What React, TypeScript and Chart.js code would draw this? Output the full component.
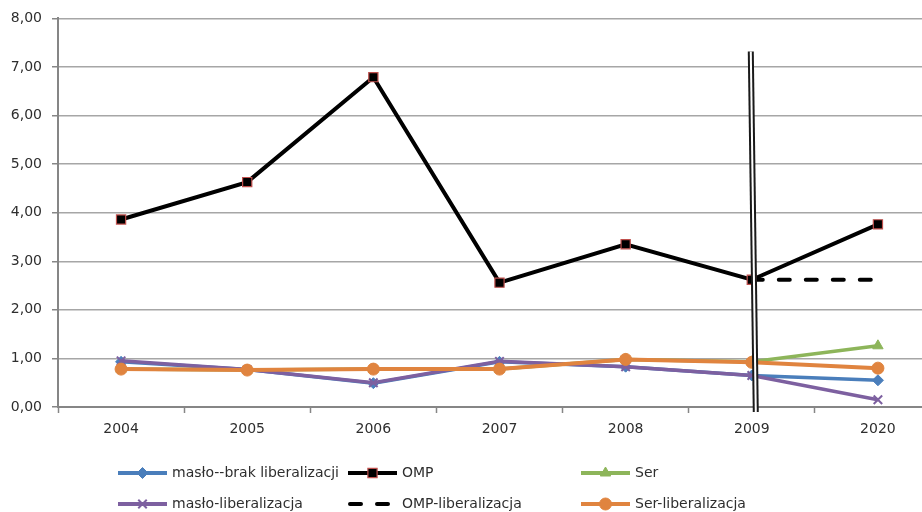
import React, { useEffect, useRef } from "react";
import { Chart, registerables } from "chart.js";
import { drawPoint } from "chart.js/helpers";

Chart.register(...registerables);

const categories = ["2004", "2005", "2006", "2007", "2008", "2009", "2020"];
const masloBrak = [0.93, 0.77, 0.49, 0.93, 0.83, 0.65, 0.55];
const omp = [3.86, 4.63, 6.79, 2.56, 3.35, 2.62, 3.76];
const ser = [0.78, 0.76, 0.78, 0.78, 0.98, 0.93, 1.26];
const masloLib = [0.95, 0.77, 0.5, 0.94, 0.83, 0.65, 0.15];
const ompLib = [null, null, null, null, null, 2.62, 2.62];
const serLib = [0.78, 0.76, 0.78, 0.78, 0.98, 0.92, 0.8];

const yMin = 0;
const yMax = 8;
const yStep = 1;
const dividerIndex = 5;
const dividerTop = 7.32;

const FONT = '"DejaVu Sans", Verdana, sans-serif';
const TEXT = "#2e2e2e";

const BLUE = "#4A7EBB";
const PURPLE = "#7D60A0";
const GREEN = "#8DB55A";
const ORANGE = "#E0843F";
const BLACK = "#000000";
const RED_BORDER = "#C0504D";

type LegendItem = {
  label: string;
  color: string;
  pointStyle: string | false;
  radius: number;
  border?: string;
  dash?: number[];
};

const legendItems: LegendItem[][] = [
  [
    { label: "masło--brak liberalizacji", color: BLUE, pointStyle: "rectRot", radius: 5.5 },
    { label: "OMP", color: BLACK, pointStyle: "rect", radius: 6.5, border: RED_BORDER },
    { label: "Ser", color: GREEN, pointStyle: "triangle", radius: 6 },
  ],
  [
    { label: "masło-liberalizacja", color: PURPLE, pointStyle: "crossRot", radius: 6 },
    { label: "OMP-liberalizacja", color: BLACK, pointStyle: false, radius: 0, dash: [11, 16] },
    { label: "Ser-liberalizacja", color: ORANGE, pointStyle: "circle", radius: 6 },
  ],
];

const legendPlugin = {
  id: "customLegend",
  afterDraw(chart: any) {
    const ctx = chart.ctx;
    const colX = [118, 348, 581];
    const rowY = [473, 504];
    const lineLen = 49;
    ctx.save();
    legendItems.forEach((row, r) => {
      row.forEach((item, c) => {
        const x0 = colX[c];
        const y = rowY[r];
        ctx.beginPath();
        ctx.strokeStyle = item.color;
        ctx.lineWidth = 4;
        if (item.dash) {
          ctx.setLineDash(item.dash);
          ctx.lineCap = "round";
          ctx.moveTo(x0 + 2, y);
          ctx.lineTo(x0 + lineLen - 2, y);
        } else {
          ctx.setLineDash([]);
          ctx.lineCap = "butt";
          ctx.moveTo(x0, y);
          ctx.lineTo(x0 + lineLen, y);
        }
        ctx.stroke();
        ctx.setLineDash([]);
        if (item.pointStyle) {
          ctx.fillStyle = item.color;
          ctx.strokeStyle = item.border || item.color;
          ctx.lineWidth = item.border ? 1.2 : item.pointStyle === "crossRot" ? 2 : 1;
          drawPoint(ctx, { pointStyle: item.pointStyle, radius: item.radius, rotation: 0, borderWidth: ctx.lineWidth } as any, x0 + lineLen / 2, y);
        }
        ctx.fillStyle = TEXT;
        ctx.font = `14px ${FONT}`;
        ctx.textBaseline = "middle";
        ctx.textAlign = "left";
        ctx.fillText(item.label, x0 + lineLen + 5, y);
      });
    });
    ctx.restore();
  },
};

const dividerPlugin = {
  id: "divider",
  afterDatasetsDraw(chart: any) {
    const ctx = chart.ctx;
    const xs = chart.scales.x;
    const ys = chart.scales.y;
    const x = xs.getPixelForValue(dividerIndex);
    const yTop = ys.getPixelForValue(dividerTop);
    const yBot = chart.chartArea.bottom + 5;
    ctx.save();
    ctx.lineCap = "butt";
    ctx.beginPath();
    ctx.strokeStyle = "#1a1a1a";
    ctx.lineWidth = 6;
    ctx.moveTo(x - 1, yTop);
    ctx.lineTo(x + 4, yBot);
    ctx.stroke();
    ctx.beginPath();
    ctx.strokeStyle = "#ffffff";
    ctx.lineWidth = 2;
    ctx.moveTo(x - 1, yTop);
    ctx.lineTo(x + 4, yBot);
    ctx.stroke();
    ctx.restore();
  },
};

export default function App() {
  const ref = useRef<HTMLCanvasElement | null>(null);

  useEffect(() => {
    if (!ref.current) return;
    const mk = (
      label: string,
      data: (number | null)[],
      color: string,
      pointStyle: any,
      radius: number,
      order: number,
      extra: any = {}
    ) => ({
      label,
      data,
      borderColor: color,
      backgroundColor: color,
      pointBackgroundColor: color,
      pointBorderColor: color,
      pointStyle,
      pointRadius: radius,
      pointHoverRadius: radius,
      borderWidth: 3.5,
      pointBorderWidth: 1,
      tension: 0,
      order,
      ...extra,
    });

    const chart = new Chart(ref.current, {
      type: "line",
      data: {
        labels: categories,
        datasets: [
          mk("masło--brak liberalizacji", masloBrak, BLUE, "rectRot", 5.5, 10),
          mk("OMP", omp, BLACK, "rect", 6.5, 5, {
            pointBorderColor: RED_BORDER,
            pointBorderWidth: 1.2,
            borderWidth: 4,
          }),
          mk("Ser", ser, GREEN, "triangle", 6, 9),
          mk("masło-liberalizacja", masloLib, PURPLE, "crossRot", 6, 8, { pointBorderWidth: 2 }),
          mk("OMP-liberalizacja", ompLib, BLACK, "circle", 0, 6, {
            borderDash: [11, 16],
            borderCapStyle: "round",
            borderWidth: 4,
          }),
          mk("Ser-liberalizacja", serLib, ORANGE, "circle", 6, 7, { borderWidth: 4 }),
        ],
      },
      options: {
        responsive: false,
        animation: false,
        devicePixelRatio: 1,
        layout: { padding: { top: 13, right: 19, left: 0, bottom: 0 } },
        plugins: {
          legend: { display: false },
          tooltip: { enabled: false },
        },
        scales: {
          x: {
            type: "category",
            offset: true,
            afterFit: (s: any) => {
              s.height = 105;
            },
            grid: {
              display: true,
              offset: true,
              drawOnChartArea: false,
              drawTicks: true,
              tickLength: 6,
              tickColor: "#868686",
              tickWidth: 1.5,
            },
            border: { display: true, color: "#868686", width: 2 },
            ticks: {
              color: TEXT,
              font: { family: FONT, size: 14 },
              padding: 8,
              maxRotation: 0,
            },
          },
          y: {
            min: yMin,
            max: yMax,
            afterFit: (s: any) => {
              s.width = 58;
            },
            grid: {
              color: "#A6A6A6",
              lineWidth: 1.5,
              drawTicks: true,
              tickLength: 6,
              tickColor: "#868686",
            },
            border: { display: true, color: "#868686", width: 2 },
            ticks: {
              stepSize: yStep,
              color: TEXT,
              font: { family: FONT, size: 14 },
              padding: 10,
              callback: (v: any) => Number(v).toFixed(2).replace(".", ","),
            },
          },
        },
      },
      plugins: [dividerPlugin, legendPlugin],
    });
    return () => chart.destroy();
  }, []);

  return (
    <div
      style={{
        position: "fixed",
        left: 0,
        top: 0,
        width: 922,
        height: 512,
        overflow: "hidden",
        background: "#ffffff",
      }}
    >
      <canvas ref={ref} width={960} height={512} style={{ display: "block" }} />
    </div>
  );
}
